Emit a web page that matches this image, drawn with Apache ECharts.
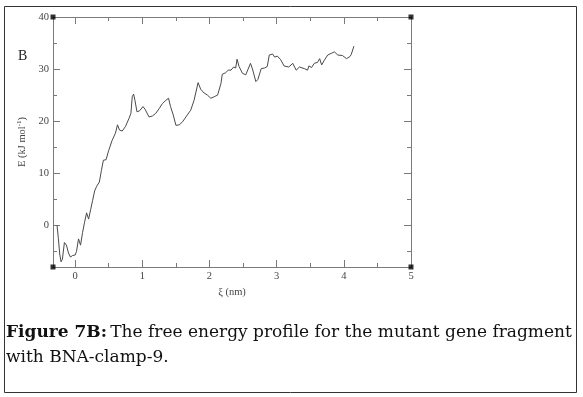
<!DOCTYPE html>
<html>
<head>
<meta charset="utf-8">
<script src="https://cdn.jsdelivr.net/npm/echarts@6/dist/echarts.min.js"></script>
<style>
  html, body { margin: 0; padding: 0; background: #fff; }
  #chart { width: 583px; height: 397px; }
</style>
</head>
<body>
<div id="chart"></div>
<script>
// reaction coordinate (nm) and free energy (kJ/mol)
var xi = [-0.27, -0.25, -0.23, -0.21, -0.19, -0.16, -0.13, -0.10, -0.07, -0.04,
    0.00, 0.02, 0.05, 0.08, 0.11, 0.14, 0.17, 0.20, 0.23, 0.26,
    0.29, 0.32, 0.36, 0.39, 0.42, 0.46, 0.50, 0.55, 0.60, 0.63,
    0.66, 0.70, 0.75, 0.80, 0.83, 0.85, 0.87, 0.89, 0.92, 0.96,
    1.01, 1.04, 1.10, 1.15, 1.20, 1.25, 1.30, 1.35, 1.39, 1.42,
    1.46, 1.48, 1.50, 1.55, 1.60, 1.67, 1.72, 1.77, 1.83, 1.87,
    1.92, 1.97, 2.02, 2.07, 2.12, 2.17, 2.19, 2.24, 2.28, 2.32,
    2.36, 2.39, 2.41, 2.44, 2.49, 2.54, 2.61, 2.64, 2.69, 2.72,
    2.77, 2.82, 2.86, 2.89, 2.94, 2.97, 3.01, 3.06, 3.11, 3.18,
    3.24, 3.29, 3.34, 3.41, 3.46, 3.48, 3.52, 3.56, 3.61, 3.64,
    3.67, 3.71, 3.76, 3.81, 3.86, 3.91, 3.98, 4.04, 4.09, 4.11, 4.15];
var energy = [0.0, -2.5, -5.5, -7.0, -6.5, -3.3, -3.8, -5.3, -6.1, -5.8,
    -5.7, -5.0, -2.6, -3.8, -1.4, 0.6, 2.4, 1.2, 3.0, 4.8,
    6.6, 7.5, 8.3, 10.5, 12.5, 12.6, 14.4, 16.3, 17.7, 19.3,
    18.3, 18.1, 19.0, 20.5, 21.5, 24.7, 25.2, 24.0, 21.8, 22.0,
    22.8, 22.3, 20.8, 21.0, 21.5, 22.4, 23.4, 24.0, 24.4, 22.8,
    21.2, 21.5, 19.2, 19.3, 19.9, 21.2, 22.1, 24.0, 27.4, 26.1,
    25.4, 25.0, 24.4, 24.7, 25.0, 27.2, 29.0, 29.3, 29.8, 29.8,
    30.4, 30.2, 31.9, 30.5, 29.2, 28.9, 31.1, 30.0, 27.6, 28.0,
    30.1, 30.2, 30.5, 32.7, 32.9, 32.3, 32.5, 31.8, 30.6, 30.4,
    31.1, 29.8, 30.4, 30.1, 29.8, 30.6, 30.3, 31.1, 31.3, 32.0,
    30.8, 31.7, 32.7, 33.0, 33.3, 32.7, 32.6, 32.0, 32.4, 32.8, 34.4];

var xMin = -0.33, xMax = 5;
var yMin = -8, yMax = 40;
var xMajor = [0, 1, 2, 3, 4, 5];
var xMinor = [0.5, 1.5, 2.5, 3.5, 4.5];
var yMajor = [0, 10, 20, 30, 40];
var yMinor = [-5, 5, 15, 25, 35];

var axisGray = '#7a7a7a';
var serif = '"Liberation Serif", "DejaVu Serif", serif';
var capFont = '"DejaVu Serif", serif';

var points = [];
for (var i = 0; i < xi.length; i++) {
    points.push([xi[i], energy[i]]);
}

function xAx(pos, ticks, len, labels) {
    return {
        type: 'value', position: pos, min: xMin, max: xMax,
        axisLine: { show: true, onZero: false, lineStyle: { color: axisGray, width: 1 } },
        axisTick: { show: true, inside: true, length: len, customValues: ticks, lineStyle: { color: axisGray } },
        axisLabel: labels ? { show: true, customValues: xMajor, color: '#444', fontFamily: serif, fontSize: 10.5, margin: 4 } : { show: false },
        splitLine: { show: false }
    };
}
function yAx(pos, ticks, len, labels) {
    return {
        type: 'value', position: pos, min: yMin, max: yMax,
        axisLine: { show: true, onZero: false, lineStyle: { color: axisGray, width: 1 } },
        axisTick: { show: true, inside: true, length: len, customValues: ticks, lineStyle: { color: axisGray } },
        axisLabel: labels ? { show: true, customValues: yMajor, color: '#444', fontFamily: serif, fontSize: 10.5, margin: 4 } : { show: false },
        splitLine: { show: false }
    };
}

var xAxes = [xAx('bottom', xMajor, 7, true), xAx('bottom', xMinor, 4, false),
    xAx('top', xMajor, 7, false), xAx('top', xMinor, 4, false)];
xAxes[0].name = 'ξ (nm)';
xAxes[0].nameLocation = 'middle';
xAxes[0].nameGap = 20;
xAxes[0].nameTextStyle = { color: '#444', fontFamily: serif, fontSize: 10.5 };

var yAxes = [yAx('left', yMajor, 7, true), yAx('left', yMinor, 4, false),
    yAx('right', yMajor, 7, false), yAx('right', yMinor, 4, false)];
yAxes[0].name = '{n|E (kJ mol}{s|-1}{n|)}';
yAxes[0].nameLocation = 'middle';
yAxes[0].nameRotate = 90;
yAxes[0].nameGap = 21;
yAxes[0].nameTextStyle = {
    rich: {
        n: { color: '#444', fontFamily: serif, fontSize: 10.5 },
        s: { color: '#444', fontFamily: serif, fontSize: 7, verticalAlign: 'top', padding: [0, 0, 6, 0] }
    }
};

var myChart = echarts.init(document.getElementById('chart'));
var option = {
    backgroundColor: '#fff',
    animation: false,
    grid: { left: 53, right: 172, top: 17, bottom: 130, containLabel: false },
    xAxis: xAxes,
    yAxis: yAxes,
    graphic: [
        { type: 'rect', shape: { x: 4.5, y: 6.5, width: 572, height: 386 }, style: { fill: 'none', stroke: '#333', lineWidth: 1 }, silent: true },
        { type: 'text', left: 18, top: 49, style: { text: 'B', fill: '#222', font: '14px ' + serif } },
        {
            type: 'text', left: 6, top: 324,
            style: {
                text: '{b|Figure 7B:} {n|The free energy profile for the mutant gene fragment}\n{n|with BNA-clamp-9.}',
                rich: {
                    b: { fontFamily: capFont, fontSize: 17, fontWeight: 'bold', fill: '#111', lineHeight: 25 },
                    n: { fontFamily: capFont, fontSize: 17, fill: '#111', lineHeight: 25 }
                }
            }
        }
    ],
    series: [
        {
            type: 'line',
            data: points,
            showSymbol: false,
            smooth: false,
            lineStyle: { color: '#4a4a4a', width: 1 },
            silent: true
        },
        {
            // small black squares at the frame corners
            type: 'scatter',
            data: [[xMin, yMin], [xMin, yMax], [xMax, yMin], [xMax, yMax]],
            symbol: 'rect',
            symbolSize: 5,
            itemStyle: { color: '#000' },
            clip: false,
            silent: true
        }
    ]
};
myChart.setOption(option);
</script>
</body>
</html>
